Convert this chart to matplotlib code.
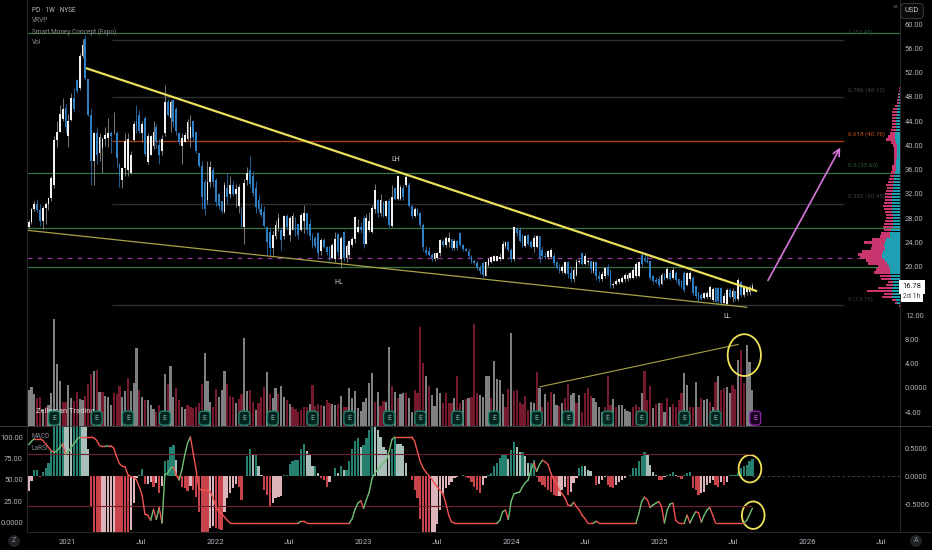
import numpy as np
import pandas as pd
import matplotlib
matplotlib.use("Agg")
import matplotlib.pyplot as plt
import matplotlib.dates as mdates
from matplotlib.patches import Ellipse

plt.rcParams['font.family'] = ['Roboto', 'DejaVu Sans']

# weekly candles
opens = [26.5,27.3,29.5,30.4,29.4,27.6,29.6,30.4,31.3,33.5,
 40.9,42.2,44.4,46.2,41.6,44.2,47.9,50.8,49.5,54.8,
 57.5,51,45,37.5,42,38.7,39.5,41,41.2,42,
 42,42,37,34.3,36.2,36,35.4,40.9,44,45,
 42,44.5,37.2,38.5,39.9,43,40,39,42,47.2,
 44.5,47.5,46,42,39.9,40.5,41,41.2,44,42.2,
 38.7,36.6,34,31,34,36,34.3,32,30.8,29,
 33,32,33.5,32,30,28.8,26.6,34.3,36,35,
 33,31,29.5,29,26.6,25.7,23,25,26.4,26,
 25,28.4,25.3,26,26.5,27,26,27.5,28.8,27,
 25,24.8,25.5,22.5,24.4,23.2,23.2,21.5,21.2,25.4,
 21.3,25.7,21.5,22,23.5,24.6,25.7,26.5,28,23.8,
 26,25.7,29.5,31,28.8,30.6,28.4,30.8,26.7,33,
 31.2,31.2,33,33.5,33.5,30,28.3,29.5,28.8,26.9,
 22.7,22.5,22,21.2,21.5,22.2,24.3,23.5,24,24.5,
 23,24.2,25.5,23.6,22.9,22.6,21.8,21,20.6,19.8,
 20.6,18.5,20.2,20.8,21,21,21.2,21.3,23.4,24,
 22.8,21.2,26.3,26,25.2,23.4,25.2,24,23.2,23.2,
 25,22.8,21.8,21.6,21.6,21.8,20.8,19.8,19.2,19,
 20.8,19,18,18.6,20.8,22.2,20.5,20.8,21,19.2,
 20.8,18.5,18,18.4,20,19.4,16.9,17.2,17.5,17.5,
 18,17.9,18.1,18.2,18.5,18.4,22,21.5,21,20.9,
 18.4,17.8,18,17.2,18.4,18.2,19,18.2,19,18,
 17.6,19,17,18,18.2,16.8,15.8,15.4,14.8,15,
 15,14.5,16.4,16.4,16.4,14,13.8,16.2,15,15.9,
 14.6,17.4,15.3,15.8,15.8,16.1]
highs = [27.7,29.7,30.9,31.1,30.4,30,30.7,31.5,35,41.5,
 44,46.6,47.9,46.8,45.2,48.6,49.5,51,55.2,57.6,
 58.2,51,46,42.2,43,42,41.4,43,44.5,42.3,
 45.5,42.4,37.1,36.2,42.1,42,39,44,46.7,45.8,
 44,44.9,42,41.8,44,43.5,41,41.7,50,47.7,
 47.5,47.7,46.3,42.2,42,42.2,44.4,45,44.2,42.4,
 38.8,37.5,34.5,37.5,37.4,36.5,34.6,32.2,30.8,34,
 35.5,35,34.2,33.6,33.6,30,34.4,36.5,38.3,35.8,
 34.2,32,30.5,30,26.6,26.4,25.8,27.7,28.8,26.5,
 28.6,28.7,28.3,28.8,28.2,27,28.8,30.1,28.8,27.8,
 25.5,25,25.7,24.7,24.7,23.4,23.4,23.9,25.7,25.5,
 25,25.8,23.8,24.4,24.9,28.3,27.8,27.3,28.4,28.7,
 29,30.1,33.7,31.2,32,30.8,31,31.3,33.4,33.2,
 35.1,33.4,33.5,35.2,34,30.2,29.8,29.7,29,27.2,
 23.4,23.2,22.3,22.3,22.4,24.6,24.6,25,25.7,24.6,
 24.6,24.4,25.7,23.8,23.3,23,22,21.3,21,20.2,
 21,21,21.5,21.8,22,21.8,22.3,24.2,24.3,24.2,
 23,26.7,26.5,26.5,25.4,25.3,25.4,24.4,25.2,25.2,
 25,23.4,22.4,22.7,23,22.2,21,20.4,20.2,21,
 21,20,19.8,21.2,21.2,22.4,22.3,21.2,21,21,
 20.9,19.2,19.2,20,20.4,19.5,17.4,18,18.2,18.5,
 18.9,19,19.2,20,20.8,21,22.6,22.4,22.2,21,
 18.6,18.3,18.4,19,18.9,20,19.4,20,19.2,18.1,
 17.8,19.2,19.1,19.2,18.4,16.8,15.8,15.7,15.8,15.9,
 17,16.6,16.6,16.6,16.6,15.6,16.4,16.4,16.5,16,
 18.1,17.6,17,16.8,17,17.3]
lows = [26.3,27,29.2,29,26.7,26.2,27,29.4,30.8,33,
 39.7,42.2,44,42,39.7,44,45.5,48.6,49.2,54.5,
 50.8,44.8,33.5,33.4,37,37.5,35.5,39.9,39.7,38.7,
 41.9,36.5,33.2,33,35,35,35.3,40.7,42,42,
 40.5,38.2,37,38.5,39.4,39.5,37,38.5,41.6,44.8,
 42.2,43,41.8,40,37,40.5,40.9,39.7,40.8,38.7,
 36.5,29.5,28.5,30.3,33.2,33.2,30,29.5,28.8,28.8,
 30.4,31.4,31.7,29.8,28.8,26.5,23.8,33.4,33.2,31.7,
 28.9,29,28.2,26.5,21.9,21.8,22,24.5,25.9,22.8,
 24.6,26,24.3,26,25,24.5,25.8,25.5,25.4,24.4,
 23,23,21.6,22,23,21.9,20.9,21.5,20.7,21.8,
 19.7,21,20.8,21.5,23.3,23.9,25.6,25.5,23,23.8,
 25.7,25.5,28.8,28.2,28.4,28.2,28.2,26.6,26.5,31,
 31,31,31,33.2,29.8,28,28.2,28.5,26.6,22.6,
 22,21.7,21,21,21.2,21.7,23.2,23.3,23.3,22.8,
 22.8,22.8,23.4,22.6,22.5,21.5,20.6,20.4,19.4,18.8,
 18.3,18.4,20,20.6,20.9,21,20.9,21.2,23,22.5,
 20.8,21,25,24,23.2,23.2,23.6,23.1,22.4,23,
 20.6,21.4,21.3,21.3,21.5,20.3,19.6,19,19,18.8,
 18.2,17.5,17.5,18.4,20.4,20.2,20.2,20.2,19,19,
 17.8,17.5,17.6,18.2,18.4,16.4,16.5,16.9,17.2,17.3,
 17.5,17.7,18,18,18.2,18.3,20,20.8,20.6,17.8,
 17.2,17.3,16.7,17,17.8,18,17.8,18,17.5,16.8,
 16.5,15.8,16.8,17.7,15.4,14.9,14.1,14.5,14.6,14.7,
 14.7,14.2,14,14,13.7,13.6,13.6,14.8,14.2,14.4,
 14.4,15,15,15.4,15.4,16]
closes = [27.3,29.5,30.4,29.4,27.6,29.6,30.4,31.3,34.6,40.9,
 42.2,45.2,46,43,44,47.9,46,49,54.8,56.5,
 51.2,45,37.5,42,38.5,41.4,41,41.8,42,41.5,
 42.1,38,35,36.2,40.8,41,38.5,43.6,43,42.3,
 43.6,38.6,41.6,41.6,42.2,40.5,38.5,41,47.2,45,
 47.2,43.8,42.3,40.6,41.3,41.8,43.8,43,41.4,39,
 36.6,31.5,29.5,34,36.5,34,30.7,30,29.2,33.5,
 31.5,33.5,32,32.8,33.2,26.6,33.8,35.4,33.6,32.2,
 29.9,29.5,28.5,26.7,24,23,25.2,26.8,28,24.4,
 28.4,26.5,28,28.4,25.8,25.2,28.6,28.8,26,25,
 23.4,23.4,22.2,24.4,23.2,22.4,21.2,23.5,24.5,22.4,
 24.8,21.4,23.4,24.2,24.6,28.2,26.5,26,23.7,28,
 27.5,29.7,32.6,28.8,31,28.4,30.8,26.8,31.5,31.2,
 34.9,33.2,31.5,34.8,30,28.3,29.5,28.8,26.9,23.3,
 22.2,22,21.4,22.2,22.2,24.4,23.5,24.8,24.8,23,
 24.2,23,23.6,22.9,22.6,21.7,21,20.6,19.8,19.2,
 18.6,20.8,21.2,21.6,21.8,21.7,21.6,23.8,24,22.8,
 21.2,26.5,25.6,24.2,23.4,25,23.8,23.3,24.8,25,
 21.5,21.8,21.6,22.5,22.8,20.6,19.8,19.2,19.9,20.8,
 18.8,17.9,19.5,20.8,21,20.5,21.8,21,19.6,20.8,
 18.4,18,18.8,19.8,18.6,16.9,17.2,17.7,18,18.2,
 18.6,18.7,19,19.5,20.5,20.8,20.4,21,20.8,18.2,
 17.6,17.5,17,18.6,18,19.6,18,19.4,17.8,17,
 16.7,16.2,19,19,15.7,15.1,14.4,14.7,15.6,15.7,
 16.6,16.3,14.2,14.3,14,15.2,16.2,15,16,14.6,
 17.8,15.3,16.6,16.5,16.6,16.78]

# volume, arbitrary units, and whether the bar is grey (g) or red (r)
volumes = [108,116,96,83,86,48,58,63,98,320,
 185,135,73,73,123,83,76,103,80,78,
 90,126,156,165,168,103,103,90,88,63,
 98,96,120,86,105,144,105,130,233,108,
 86,78,78,63,50,43,63,48,155,125,
 181,88,113,78,56,50,63,58,53,58,
 68,126,218,136,73,58,110,86,108,164,
 126,90,86,68,80,95,263,105,108,73,
 48,68,88,116,162,96,84,113,95,120,
 86,78,66,56,50,43,48,56,56,66,
 123,60,66,63,60,78,68,65,63,66,
 90,56,58,113,83,105,53,45,73,84,
 128,160,73,103,60,76,73,238,120,103,
 83,96,98,98,83,43,108,98,298,188,
 150,120,92,60,113,98,68,98,68,68,
 83,150,68,78,80,83,88,306,98,93,
 86,150,151,83,196,141,138,96,58,111,
 280,105,108,73,65,90,48,71,68,161,
 113,58,96,73,101,96,63,60,68,83,
 126,93,98,68,93,43,100,113,91,83,
 73,58,43,58,151,63,81,58,63,63,
 50,46,43,58,63,58,100,166,78,120,
 53,66,68,68,43,83,58,66,58,78,
 98,158,123,58,58,133,58,83,78,80,
 73,58,133,151,108,113,118,98,123,110,
 198,228,128,243,193,108]
vol_sides = ("gggrrgrggg" "ggrrggrrgg" "rrrgrgrggg" "rrrggrgggr" "grgggrrrgr"
 "ggrrggrrrr" "rrgggrrggg" "rrrgrrggrr" "grrrgrggrg" "grgrrrrrrg"
 "rrrrgrrggr" "grrggggggg" "ggrgrrggrg" "rggrggrrrr" "grggggrrrr"
 "grrgrgrrrg" "gggrggggrr" "grrrrrrggr" "grgrrggrgr" "rggrgrrrrg"
 "gggrrrgrgg" "gggrrrgrrr" "grgrgrgrrr" "rggrrgrrgg" "rgrgrrggrr" "grrggg")

macd_hist = [-.27,-.09,.11,.11,-.01,.08,.14,.24,.46,1.0,
 1.1,1.2,1.3,1.25,1.2,1.15,1.2,1.25,1.3,1.25,
 .92,.49,-.54,-1.0,-1.2,-1.4,-1.35,-1.3,-1.28,-1.24,
 -1.2,-1.25,-1.3,-1.35,-1.4,-1.45,-.96,-.49,-.04,.01,
 .12,-.15,-.15,-.10,-.19,-.13,-.30,-.18,.26,.29,
 .52,.55,.29,-.04,-.19,-.22,-.27,-.17,-.25,-.37,
 -.64,-1.0,-1.05,-1.1,-.92,-.89,-.93,-.95,-.96,-.64,
 -.40,-.31,-.22,-.14,-.19,-.43,0,.36,.48,.38,
 .39,.17,.02,-.25,-.34,-.54,-.48,-.40,-.37,-.35,
 .01,.02,.21,.26,.29,.29,.48,.58,.45,.38,
 .17,.17,.05,-.04,-.07,-.19,-.10,0,.14,.06,
 .17,.10,.11,.26,.49,.63,.68,.52,.55,.67,
 .82,.88,.87,.83,.70,.52,.46,.40,.49,.67,
 .58,.57,.54,.23,0,-.07,-.25,-.40,-.76,-1.0,
 -1.05,-1.1,-1.05,-1.0,-.85,-.61,-.34,-.22,-.16,-.10,
 -.04,-.01,0,.02,-.01,-.04,-.10,-.19,-.25,-.31,
 -.16,-.04,.01,.05,.17,.23,.32,.40,.40,.30,
 .46,.60,.51,.42,.43,.35,.23,.24,.29,-.01,
 -.10,-.16,-.19,-.25,-.28,-.34,-.36,-.36,-.25,-.19,
 -.34,-.28,-.13,-.04,.14,.18,.17,.11,.09,0,
 -.16,-.14,-.07,-.01,-.16,-.20,-.22,-.16,-.10,-.08,
 -.04,0,.01,.14,.15,.27,.35,.42,.40,.20,
 .08,.01,-.07,-.08,-.01,.01,.04,.07,.02,-.01,
 -.05,.02,.05,.07,-.22,-.25,-.34,-.31,-.28,-.16,
 -.13,-.07,-.16,-.19,-.10,-.16,-.10,.01,.02,.02,
 .05,.14,.17,.20,.26,.30]

larsi = [91,95,98,98,98,96,92,88,84,82,
 84,88,92,80,83,88,92,97,100,100,
 100,100,100,99,96,90,89,89,90,90,
 87,77,69,66,65,56,54,53,50,42,
 32,10,9,3,16,4,18,0,56,58,
 64,65,56,50,62,79,93,100,81,62,
 40,38,38,38,36,29,19,13,11,7,
 3,0,0,0,0,0,0,0,0,0,
 0,0,0,0,0,0,0,0,0,0,
 0,0,0,0,0,0,2,2,0,0,
 0,0,0,0,0,0,0,0,0,0,
 0,0,0,0,5,16,23,26,17,27,
 36,52,58,62,66,70,73,83,97,100,
 100,100,100,100,100,100,95,83,71,64,
 59,55,51,46,42,38,34,23,9,1,
 0,0,0,0,0,0,0,0,0,0,
 0,0,0,0,0,0,3,13,15,4,
 25,34,35,36,42,47,50,62,70,60,
 68,73,71,68,58,50,46,38,34,29,
 21,20,24,19,15,9,5,0,0,0,
 2,0,0,0,0,0,0,0,0,0,
 0,0,0,0,0,11,25,30,27,18,
 21,23,25,19,0,15,22,23,3,0,
 0,0,9,0,7,13,12,1,9,15,
 18,9,0,0,0,0,0,0,0,0,
 0,0,0,3,10,17]

# visible range volume profile: row price, total, up part
vp_prices = [13.5,14,14.5,15,15.5,16,16.5,17,17.5,18,18.5,19,19.5,20,20.5,21,21.5,22,22.5,23,
 23.5,24,24.5,25,25.5,26,26.5,27,27.5,28,28.5,29,29.5,30,30.5,31,31.5,32,32.5,33,
 33.5,34,34.5,35,35.5,36,36.5,37,37.5,38,38.5,39,39.5,40,40.5,41,41.5,42,42.5,43,
 43.5,44,44.5,45,45.5,46,46.5,47,47.5,48,48.5,49,49.5,50,51,52,53,54,55,56,57,58]
vp_total = [1,5,8,18,16,33,22,14,12,19,20,26,24,22,32,34,40,42,38,29,
 28,36,28,20,19,16,17,16,15,14,14,15,16,17,16,15,15,15,14,13,
 14,12,11,10,9,8,8,6,6,6,6,6,6,7,9,14,12,10,9,8,
 8,8,8,8,8,7,5,3,3,2,2,1,1,.5,.5,.5,.5,.5,.5,.5,.5,.5]
vp_up = [.5,3,4,8,7,8,8,7,7,9,9,10,10,11,13,15,18,18,17,15,
 16,15,14,10,10,9,7,7,7,7,7,8,8,8,8,8,8,8,7,7,
 7,6,6,6,5,4,4,4,4,3,3,3,3,3,4,5,5,5,4,4,
 4,4,4,3,3,3,2,1,1,1,1,.5,.5,.3,.2,.2,.2,.2,.2,.2,.2,.2]

# week indexes of earnings flags, the last one still to come
earnings_idx = [9,24,35,48,62,76,86,100,113,127,138,151,164,179,190,204,216,231,242,256]

green_levels = [58.5, 35.5, 26.4, 20.0]
fib_levels = [57.4, 48.0, 40.7, 30.4, 13.65]
fib_labels = ["1 (57.45)", "0.786 (48.10)", "0.618 (40.76)", "0.5 (35.60)", "0.382 (30.45)", "0 (13.75)"]
fib_label_prices = [58.7, 49.1, 41.9, 36.7, 31.6, 14.7]
fib_label_colors = ["#2e4d33", "#3f4247", "#c4521c", "#2f5f38", "#3a3d42", "#3a3d42"]
poc_price = 21.5

main_trend_dates = ["2021-02-19", "2025-08-27"]
main_trend_prices = [52.7, 16.0]
low_trend_dates = ["2020-09-24", "2025-08-04"]
low_trend_prices = [26.0, 13.3]
vol_trend_dates = ["2024-03-12", "2025-07-14"]
vol_trend_prices = [0.17, 7.16]
arrow_dates = ["2025-09-22", "2026-03-26"]
arrow_prices = [17.3, 40.05]

price_ticks = [60,56,52,48,44,40,36,32,28,24,20,16,12,8,4,0,-4]
price_labels = ["60.00","56.00","52.00","48.00","44.00","40.00","36.00","32.00","28.00","24.00",
 "20.00","","12.00","8.00","4.00","0.0000","-4.00"]
date_ticks = ["2021-01-01","2021-07-01","2022-01-01","2022-07-01","2023-01-01","2023-07-01",
 "2024-01-01","2024-07-01","2025-01-01","2025-07-01","2026-01-01","2026-07-01"]
date_labels = ["2021","Jul","2022","Jul","2023","Jul","2024","Jul","2025","Jul","2026","Jul"]

BG = "#000000"
TXT = "#b2b5be"
W, H = 932, 550

dates = pd.date_range("2020-09-28", periods=len(closes), freq="7D")
x = mdates.date2num(dates)
num = lambda d: mdates.date2num(pd.to_datetime(d))
xlim = (num("2020-09-24"), num("2026-08-17"))

opens, highs, lows, closes = map(np.array, (opens, highs, lows, closes))
macd_hist = np.array(macd_hist)
larsi = np.array(larsi, dtype=float)

fig = plt.figure(figsize=(W / 100, H / 100), dpi=100, facecolor=BG)
ax = fig.add_axes([27 / W, (H - 426) / H, 873 / W, 426 / H], facecolor="none")
ax_low = fig.add_axes([27 / W, (H - 532) / H, 873 / W, 106 / H], facecolor=BG)

ax.set_xlim(xlim)
ax.set_ylim(-6.3, 64)

# volume sits behind the candles on its own scale
ax_vol = fig.add_axes(ax.get_position(), facecolor=BG, zorder=-1)
ax_vol.set_xlim(xlim)
ax_vol.set_ylim(0, 1278)
ax_vol.axis("off")
vol_cols = ["#7e8082" if s == "g" else "#741a2c" for s in vol_sides]
ax_vol.bar(x, volumes, width=5.4, color=vol_cols, linewidth=0)

for lv in green_levels:
    ax.axhline(lv, color="#3a7343", lw=0.9, zorder=1)
ax.axhline(poc_price, color="#94389f", lw=0.9, ls=(0, (4, 4)), zorder=1)
fib_start, fib_end = num("2021-04-22"), num("2026-04-01")
for lv in fib_levels:
    col = "#a63e12" if lv == 40.7 else "#2c2e33"
    ax.hlines(lv, fib_start, fib_end, color=col, lw=1.0, zorder=1)
for lab, p, c in zip(fib_labels, fib_label_prices, fib_label_colors):
    ax.text(num("2026-04-11"), p, lab, color=c, fontsize=4.5, va="center", ha="left")

# candles
up = closes >= opens
ax.vlines(x[up], lows[up], highs[up], color="#8d8d8d", lw=0.6, zorder=2)
ax.vlines(x[~up], lows[~up], highs[~up], color="#2b6fa8", lw=0.6, zorder=2)
ax.bar(x[up], (closes - opens)[up], bottom=opens[up], width=4.4, color="#f2f2f2", linewidth=0, zorder=3)
ax.bar(x[~up], (opens - closes)[~up], bottom=closes[~up], width=4.4, color="#2f7fc4", linewidth=0, zorder=3)

ax.plot(num(main_trend_dates), main_trend_prices, color="#e8df58", lw=1.6, zorder=4)
ax.plot(num(low_trend_dates), low_trend_prices, color="#a8a345", lw=0.9, zorder=4)
ax.plot(num(vol_trend_dates), vol_trend_prices, color="#a8a345", lw=0.8, zorder=4)
ax.annotate("", xy=(num(arrow_dates[1]), arrow_prices[1]), xytext=(num(arrow_dates[0]), arrow_prices[0]),
            arrowprops=dict(arrowstyle="->", color="#d676dd", lw=1.2, mutation_scale=12), zorder=4)
ax.add_patch(Ellipse((num("2025-07-29"), 5.4), 82, 6.9, fill=False, ec="#eee25a", lw=1.3, zorder=5))

ax.text(num("2023-03-23"), 37.6, "LH", color="#d8d8d8", fontsize=5, ha="center", va="center")
ax.text(num("2022-11-03"), 17.4, "HL", color="#d8d8d8", fontsize=5, ha="center", va="center")
ax.text(num("2025-06-16"), 11.7, "LL", color="#d8d8d8", fontsize=5, ha="center", va="center")

ax.text(num("2020-10-17"), -3.9, "Zelleman Trading", color="#d8d8d8", fontsize=5.4, va="center", zorder=5)

# earnings flags
step = 7
for i in earnings_idx:
    col, fc = ("#8e24aa", "#1c0524") if i == earnings_idx[-1] else ("#1c8a72", "#06241f")
    tc = "#c060d8" if i == earnings_idx[-1] else "#7fb9ad"
    ax.text(x[0] + i * step, -5.0, "E", color=tc, fontsize=5, ha="center", va="center", zorder=6,
            bbox=dict(boxstyle="round,pad=0.5", fc=fc, ec=col, lw=0.9))

# profile on the right, one unit is one pixel
ax_prof = ax.twiny()
ax_prof.set_xlim(873, 0)
ax_prof.axis("off")
vp_up_a, vp_total_a = np.array(vp_up), np.array(vp_total)
ax_prof.barh(vp_prices, vp_up_a, height=0.4, color="#1f9fb4", linewidth=0, zorder=2)
ax_prof.barh(vp_prices, vp_total_a - vp_up_a, left=vp_up_a, height=0.4, color="#c8356f", linewidth=0, zorder=2)

ax.yaxis.tick_right()
ax.set_yticks(price_ticks)
ax.set_yticklabels(price_labels)
ax.tick_params(axis="y", length=0, pad=3.5, labelsize=5.4, labelcolor=TXT)
ax.set_xticks([])
for s in ax.spines.values():
    s.set_visible(False)

# lower pane: MACD histogram and LaRSI
ax_low.set_xlim(xlim)
ax_low.set_ylim(-1.0, 0.893)
rising = np.diff(macd_hist, prepend=macd_hist[0]) >= 0
bar_cols = []
for v, r in zip(macd_hist, rising):
    if v >= 0:
        bar_cols.append("#26806f" if r else "#a9bdb9")
    else:
        bar_cols.append("#dcb4b9" if r else "#c9444a")
ax_low.bar(x, macd_hist, width=5.6, color=bar_cols, linewidth=0, zorder=2)
ax_low.hlines(0, x[-1], xlim[1], color="#4a4d52", lw=0.6, ls=(0, (3, 3)))
ax_low.add_patch(Ellipse((num("2025-08-12"), 0.13), 56, 0.49, fill=False, ec="#eee25a", lw=1.3, zorder=5))
ax_low.add_patch(Ellipse((num("2025-08-20"), -0.70), 56, 0.49, fill=False, ec="#eee25a", lw=1.3, zorder=5))

ax_rsi = ax_low.twinx()
ax_rsi.set_ylim(-10.5, 112.8)
ax_rsi.yaxis.tick_left()
ax_rsi.set_yticks([100, 75, 50, 25, 0])
ax_rsi.set_yticklabels(["100.00", "75.00", "50.00", "25.00", "0.0000"])
ax_rsi.tick_params(axis="y", length=0, pad=3, labelsize=5.4, labelcolor=TXT)
ax_rsi.hlines([80, 20], xlim[0], x[-1], color="#6e2030", lw=0.8, zorder=1)
for k in range(len(larsi) - 1):
    col = "#6fbf73" if larsi[k + 1] > larsi[k] else "#ef5350"
    ax_rsi.plot(x[k:k + 2], larsi[k:k + 2], color=col, lw=1.0, zorder=4, solid_capstyle="round")

# twinx moved these to the left, so set them after it
ax_low.yaxis.tick_right()
ax_low.set_yticks([0.5, 0, -0.5])
ax_low.set_yticklabels(["0.5000", "0.0000", "-0.5000"])
ax_low.tick_params(axis="y", length=0, pad=3.5, labelsize=5.4, labelcolor=TXT)
ax_low.set_xticks(num(date_ticks))
ax_low.set_xticklabels(date_labels)
ax_low.tick_params(axis="x", length=0, pad=5, labelsize=5.6, labelcolor=TXT)

for a in (ax_low, ax_rsi):
    for s in a.spines.values():
        s.set_visible(False)

# frame lines
edge = "#26282c"
fig.add_artist(plt.Line2D([27 / W, 27 / W], [(H - 532) / H, 1], color=edge, lw=0.7))
fig.add_artist(plt.Line2D([900 / W, 900 / W], [(H - 532) / H, 1], color=edge, lw=0.7))
fig.add_artist(plt.Line2D([0, 1], [(H - 426) / H] * 2, color="#3a3c40", lw=0.7))
fig.add_artist(plt.Line2D([27 / W, 1], [(H - 532) / H] * 2, color=edge, lw=0.7))

def ftext(px, py, s, **kw):
    kw.setdefault("fontsize", 4.7)
    kw.setdefault("va", "center")
    return fig.text(px / W, 1 - py / H, s, **kw)

ftext(32, 10.5, "PD · 1W · NYSE", color="#b8bbc0")
ftext(32, 21, "VRVP", color="#85888d")
ftext(32, 32, "Smart Money Concept (Expo)", color="#85888d")
ftext(32, 42, "Vol", color="#85888d")
ftext(32, 437, "MACD", color="#85888d")
ftext(32, 448, "LaRSI", color="#85888d")
ftext(912, 11, "USD", color="#c8cad0", ha="center", fontsize=5.4,
      bbox=dict(boxstyle="round,pad=0.55", fc="#0a0a0a", ec="#3a3c40", lw=0.7))
ftext(912, 287, "16.78", color="#111111", ha="center", zorder=10, fontsize=5.4,
      bbox=dict(boxstyle="square,pad=0.5", fc="#ffffff", ec="none"))
ftext(912, 296, "2d 1h", color="#444444", ha="center", fontsize=5, zorder=11,
      bbox=dict(boxstyle="square,pad=0.35", fc="#ffffff", ec="none"))
ftext(895, 6, "≡", color="#55585c", ha="center", fontsize=4.5)
ftext(14, 541, "Z", color="#8a8d92", ha="center", fontsize=5,
      bbox=dict(boxstyle="circle,pad=0.35", fc="#202226", ec="none"))
ftext(916, 541, "A", color="#8a8d92", ha="center", fontsize=5,
      bbox=dict(boxstyle="circle,pad=0.35", fc="#202226", ec="none"))

fig.savefig("out.png", dpi=100, facecolor=BG)
